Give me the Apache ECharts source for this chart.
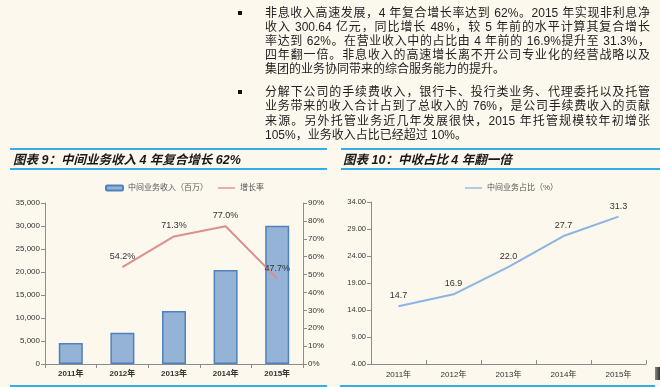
<!DOCTYPE html>
<html>
<head>
<meta charset="utf-8">
<script src="https://cdn.jsdelivr.net/npm/echarts@6/dist/echarts.min.js"></script>
<style>
html,body{margin:0;padding:0;background:#fcf8ee;}
#wrap{position:relative;width:660px;height:387px;overflow:hidden;background:#fcf8ee;}
#chart{position:absolute;left:0;top:0;width:660px;height:387px;}
.ln{position:absolute;left:265px;width:385px;height:14px;line-height:14px;font-size:12px;color:#1e1e1e;
  font-family:"Liberation Sans","Noto Sans CJK SC",sans-serif;white-space:nowrap;text-align:justify;text-align-last:justify;}
.ln.last{text-align:left;text-align-last:left;}
.bul{position:absolute;left:238px;width:4px;height:4px;background:#111;}
.bar{position:absolute;height:2px;background:#33aee6;}
.ttl{position:absolute;top:151px;height:18px;line-height:18px;font-size:12.5px;font-weight:bold;font-style:italic;color:#1a1a1a;
  font-family:"Liberation Sans","Noto Sans CJK SC",sans-serif;white-space:nowrap;}
</style>
</head>
<body>
<div id="wrap">
<div id="chart"></div>
</div>
<script>
// ---- data ----
const para1 = [
  "非息收入高速发展，4 年复合增长率达到 62%。2015 年实现非利息净",
  "收入 300.64 亿元，同比增长 48%，较 5 年前的水平计算其复合增长",
  "率达到 62%。在营业收入中的占比由 4 年前的 16.9%提升至 31.3%，",
  "四年翻一倍。非息收入的高速增长离不开公司专业化的经营战略以及",
  "集团的业务协同带来的综合服务能力的提升。"
];
const para2 = [
  "分解下公司的手续费收入，银行卡、投行类业务、代理委托以及托管",
  "业务带来的收入合计占到了总收入的 76%，是公司手续费收入的贡献",
  "来源。另外托管业务近几年发展很快，2015 年托管规模较年初增张",
  "105%，业务收入占比已经超过 10%。"
];
const title1 = "图表 9：中间业务收入 4 年复合增长 62%";
const title2 = "图表 10：中收占比 4 年翻一倍";
const categories = ["2011年", "2012年", "2013年", "2014年", "2015年"];
const incomeName = "中间业务收入（百万）";
const growthName = "增长率";
const shareName = "中间业务占比（%）";
const income = [4560, 6800, 11520, 20430, 30064];
const growth = [null, 54.2, 71.3, 77.0, 47.7];
const share = [14.7, 16.9, 22.0, 27.7, 31.3];

// ---- text layout ----
const wrap = document.getElementById('wrap');
function addDiv(cls, css, text){
  const d = document.createElement('div');
  d.className = cls;
  d.style.cssText = css;
  if (text != null) d.textContent = text;
  wrap.appendChild(d);
  return d;
}
const p1Tops = [6, 20, 34, 48, 62];
const p2Tops = [85, 99.3, 113.6, 128];
para1.forEach((t,i)=>addDiv('ln' + (i===para1.length-1?' last':''), 'top:'+p1Tops[i]+'px', t));
para2.forEach((t,i)=>addDiv('ln' + (i===para2.length-1?' last':''), 'top:'+p2Tops[i]+'px', t));
addDiv('bul','top:11px');
addDiv('bul','top:90px');
addDiv('bar','left:10px;width:317px;top:148px');
addDiv('bar','left:10px;width:317px;top:168px');
addDiv('bar','left:341px;width:319px;top:148px');
addDiv('bar','left:341px;width:319px;top:168px');
addDiv('bar','left:10px;width:317px;top:385px');
addDiv('bar','left:340px;width:315px;top:385px');
addDiv('ttl','left:13px', title1);
addDiv('ttl','left:343px', title2);
addDiv('', 'position:absolute;left:655px;top:367px;width:5px;height:13px;background:linear-gradient(90deg,#888,#333)');

// ---- chart ----
const FF = '"Liberation Sans","Noto Sans CJK SC",sans-serif';
const axisLine = {show:true, lineStyle:{color:'#8c8c8c', width:1}};
const chart = echarts.init(document.getElementById('chart'), null, {renderer:'canvas'});
chart.setOption({
  backgroundColor: 'transparent',
  animation: false,
  textStyle: {fontFamily: FF},
  legend: [
    {left: 100, top: 179, itemWidth: 17, itemHeight: 5, itemGap: 10,
     data: [{name: incomeName}, {name: growthName, icon: 'path://M0,2 L20,2 L20,3.6 L0,3.6 Z'}],
     textStyle: {fontSize: 8, color: '#555', fontFamily: FF}},
    {left: 460, top: 179, itemWidth: 17, itemHeight: 5,
     data: [{name: shareName, icon: 'path://M0,2 L20,2 L20,3.6 L0,3.6 Z'}],
     textStyle: {fontSize: 8, color: '#555', fontFamily: FF}}
  ],
  grid: [
    {left: 45, right: 357, top: 203, bottom: 23},
    {left: 371, right: 14, top: 202, bottom: 23}
  ],
  xAxis: [
    {type:'category', gridIndex:0, data: categories, boundaryGap:true,
     axisLine: axisLine, axisTick:{show:true, length:4, lineStyle:{color:'#8c8c8c'}},
     axisLabel:{fontSize:8, color:'#333', margin:6, fontWeight:'bold', fontFamily:FF}},
    {type:'category', gridIndex:1, data: categories, boundaryGap:true,
     axisLine: axisLine, axisTick:{show:true, inside:true, length:4, lineStyle:{color:'#8c8c8c'}},
     axisLabel:{fontSize:8, color:'#333', margin:7, fontFamily:FF}}
  ],
  yAxis: [
    {type:'value', gridIndex:0, min:0, max:35000, interval:5000, position:'left',
     axisLine: axisLine, axisTick:{show:true, length:4, lineStyle:{color:'#8c8c8c'}},
     splitLine:{show:false},
     axisLabel:{fontSize:8, color:'#333', margin:5, fontFamily:FF,
       formatter: v => v.toLocaleString('en-US')}},
    {type:'value', gridIndex:0, min:0, max:90, interval:10, position:'right',
     axisLine: axisLine, axisTick:{show:true, length:4, lineStyle:{color:'#8c8c8c'}},
     splitLine:{show:false},
     axisLabel:{fontSize:8, color:'#333', margin:5, fontFamily:FF, formatter:'{value}%'}},
    {type:'value', gridIndex:1, min:4, max:34, interval:5,
     axisLine: axisLine, axisTick:{show:true, length:4, lineStyle:{color:'#8c8c8c'}},
     splitLine:{show:false},
     axisLabel:{fontSize:7.5, color:'#333', margin:5, fontFamily:FF,
       formatter: v => v.toFixed(2)}}
  ],
  series: [
    {name: incomeName, type:'bar', xAxisIndex:0, yAxisIndex:0, data: income, barWidth:24,
     itemStyle:{color:'#95b3d7', borderColor:'#4f81bd', borderWidth:1.5}},
    {name: growthName, type:'line', xAxisIndex:0, yAxisIndex:1, data: growth,
     symbol:'circle', symbolSize:0.1, showSymbol:true,
     lineStyle:{color:'#dc8f8d', width:2}, itemStyle:{color:'#dc8f8d'},
     label:{show:true, position:'top', distance:6, fontSize:9, color:'#333', fontFamily:FF,
       formatter: p => p.value.toFixed(1) + '%'}},
    {name: shareName, type:'line', xAxisIndex:1, yAxisIndex:2, data: share,
     symbol:'circle', symbolSize:0.1, showSymbol:true,
     lineStyle:{color:'#8eb4e3', width:2}, itemStyle:{color:'#8eb4e3'},
     label:{show:true, position:'top', distance:6, fontSize:9, color:'#333', fontFamily:FF,
       formatter: p => p.value.toFixed(1)}}
  ]
});
</script>
</body>
</html>
